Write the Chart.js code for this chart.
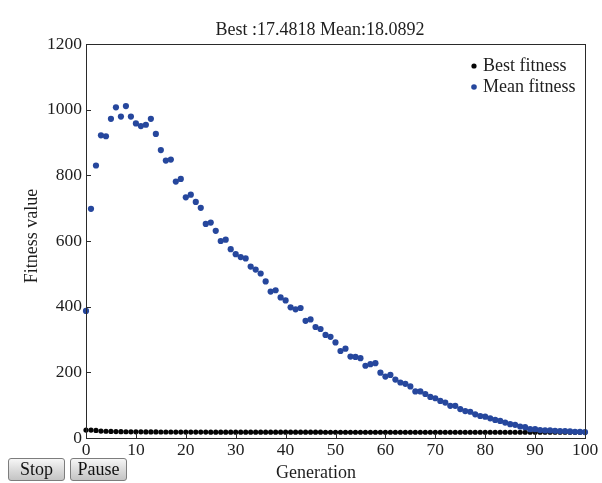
<!DOCTYPE html>
<html>
<head>
<meta charset="utf-8">
<script src="https://cdn.jsdelivr.net/npm/chart.js@4/dist/chart.umd.min.js"></script>
<style>
  html, body { margin: 0; padding: 0; background: #ffffff; }
  #wrap { position: relative; width: 602px; height: 483px; }
  canvas { position: absolute; left: 0; top: 0; }
  .btn {
    position: absolute; top: 458px; height: 23px; width: 57px;
    box-sizing: border-box; border: 1px solid #7d7d7d; border-radius: 3px;
    background: linear-gradient(#f6f6f6, #d9d9d9 55%, #c4c4c4);
    font-family: "Liberation Serif", serif; font-size: 18px; color: #111;
    text-align: center; line-height: 21px;
  }
</style>
</head>
<body>
<div id="wrap">
  <canvas id="c" width="602" height="483"></canvas>
  <div class="btn" style="left:8px;">Stop</div>
  <div class="btn" style="left:70px;">Pause</div>
</div>
<script>
const titleText = "Best :17.4818 Mean:18.0892";
const xAxisTitle = "Generation";
const yAxisTitle = "Fitness value";
const seriesLabels = ["Best fitness", "Mean fitness"];
const xTicks = [0, 10, 20, 30, 40, 50, 60, 70, 80, 90, 100];
const yTicks = [0, 200, 400, 600, 800, 1000, 1200];

const meanFitness = [
  387, 698, 830, 922, 919, 972, 1007, 979, 1011, 979,
  958, 950, 954, 972, 926, 877, 845, 848, 781, 789,
  733, 741, 719, 701, 652, 656, 631, 600, 604, 575,
  560, 551, 547, 522, 513, 501, 477, 446, 450, 428,
  419, 398, 392, 396, 357, 361, 338, 332, 314, 308,
  291, 265, 272, 248, 247, 243, 220, 225, 228, 199,
  187, 192, 178, 169, 165, 157, 142, 142, 134, 125,
  121, 113, 108, 98, 98, 88, 82, 80, 72, 67,
  65, 60, 55, 52, 47, 42, 40, 35, 33, 27,
  27, 24, 23, 23, 22, 21, 21, 20, 19, 19, 18.0892
];

const bestFitness = [
  24, 24, 23, 21, 20.5, 20, 19.6, 19.3, 19.1, 18.9,
  18.8, 18.7, 18.6, 18.5, 18.4, 18.3, 18.2, 18.2, 18.1, 18.1,
  18.0, 18.0, 17.95, 17.9, 17.9, 17.85, 17.85, 17.8, 17.8, 17.8,
  17.75, 17.75, 17.72, 17.72, 17.7, 17.7, 17.68, 17.68, 17.66, 17.66,
  17.65, 17.64, 17.63, 17.62, 17.61, 17.6, 17.6, 17.59, 17.58, 17.58,
  17.57, 17.57, 17.56, 17.56, 17.55, 17.55, 17.54, 17.54, 17.53, 17.53,
  17.52, 17.52, 17.52, 17.51, 17.51, 17.51, 17.5, 17.5, 17.5, 17.5,
  17.5, 17.49, 17.49, 17.49, 17.49, 17.49, 17.49, 17.49, 17.49, 17.49,
  17.485, 17.485, 17.485, 17.485, 17.485, 17.485, 17.485, 17.485, 17.485, 17.485,
  17.4818, 17.4818, 17.4818, 17.4818, 17.4818, 17.4818, 17.4818, 17.4818, 17.4818, 17.4818, 17.4818
];

const BLUE = "#26479d";
const BLACK = "#050505";
const TEXT = "#1e1e1e";
const FONT = '"Liberation Serif", "Times New Roman", serif';

const toXY = arr => arr.map((v, i) => ({ x: i, y: v }));

const decorPlugin = {
  id: "decor",
  afterDraw(chart) {
    const ctx = chart.ctx;
    const a = chart.chartArea;
    const xs = chart.scales.x, ys = chart.scales.y;
    ctx.save();
    // frame
    ctx.strokeStyle = "#2a2a2a";
    ctx.lineWidth = 1;
    ctx.strokeRect(Math.round(a.left) + 0.5, Math.round(a.top) + 0.5,
                   Math.round(a.right - a.left), Math.round(a.bottom - a.top));
    // inward ticks
    ctx.beginPath();
    yTicks.forEach(v => {
      const py = Math.round(ys.getPixelForValue(v)) + 0.5;
      ctx.moveTo(a.left, py); ctx.lineTo(a.left + 5, py);
    });
    xTicks.forEach(v => {
      const px = Math.round(xs.getPixelForValue(v)) + 0.5;
      ctx.moveTo(px, a.bottom); ctx.lineTo(px, a.bottom - 5);
    });
    ctx.stroke();
    // titles
    ctx.fillStyle = TEXT;
    ctx.font = "18px " + FONT;
    ctx.textAlign = "center";
    ctx.textBaseline = "middle";
    ctx.fillText(titleText, 320, 30);
    ctx.fillText(xAxisTitle, 316, 473);
    ctx.save();
    ctx.translate(32, 236);
    ctx.rotate(-Math.PI / 2);
    ctx.fillText(yAxisTitle, 0, 0);
    ctx.restore();
    // legend
    const items = [
      { label: seriesLabels[0], color: BLACK, y: 66, r: 2.6 },
      { label: seriesLabels[1], color: BLUE, y: 87, r: 2.8 }
    ];
    ctx.textAlign = "left";
    items.forEach(it => {
      ctx.fillStyle = it.color;
      ctx.beginPath();
      ctx.arc(474, it.y, it.r, 0, Math.PI * 2);
      ctx.fill();
      ctx.fillStyle = TEXT;
      ctx.fillText(it.label, 483, it.y);
    });
    ctx.restore();
  }
};

new Chart(document.getElementById("c"), {
  type: "scatter",
  data: {
    datasets: [
      {
        label: seriesLabels[0],
        data: toXY(bestFitness),
        backgroundColor: BLACK,
        borderColor: BLACK,
        pointRadius: 2.6,
        borderWidth: 0,
        clip: false,
        order: 1
      },
      {
        label: seriesLabels[1],
        data: toXY(meanFitness),
        backgroundColor: BLUE,
        borderColor: BLUE,
        pointRadius: 3.1,
        borderWidth: 0,
        clip: false,
        order: 0
      }
    ]
  },
  options: {
    responsive: false,
    animation: false,
    devicePixelRatio: 1,
    layout: { padding: { top: 44, right: 17, left: 0, bottom: 0 } },
    plugins: {
      legend: { display: false },
      title: { display: false },
      tooltip: { enabled: false }
    },
    scales: {
      x: {
        type: "linear",
        min: 0, max: 100,
        afterBuildTicks: s => { s.ticks = xTicks.map(v => ({ value: v })); },
        afterFit: s => { s.height = 45; },
        grid: { display: false, drawTicks: false },
        border: { display: false },
        ticks: { padding: 2, color: TEXT, font: { family: FONT, size: 17.5 }, maxRotation: 0,
                 callback: v => String(v) }
      },
      y: {
        type: "linear",
        min: 0, max: 1200,
        afterBuildTicks: s => { s.ticks = yTicks.map(v => ({ value: v })); },
        afterFit: s => { s.width = 86; },
        grid: { display: false, drawTicks: false },
        border: { display: false },
        ticks: { padding: 4, color: TEXT, font: { family: FONT, size: 17.5 },
                 callback: v => String(v) }
      }
    }
  },
  plugins: [decorPlugin]
});
</script>
</body>
</html>
